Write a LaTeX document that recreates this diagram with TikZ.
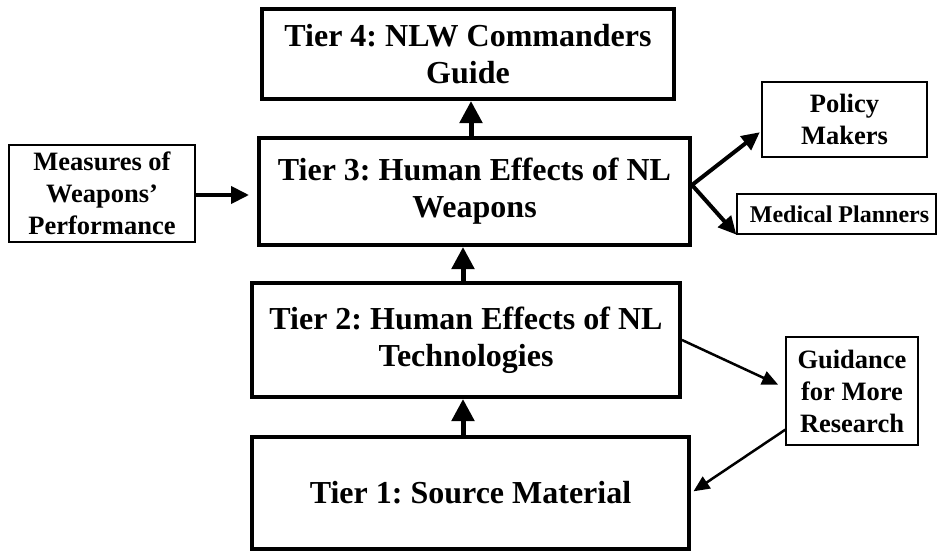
\documentclass[tikz,border=0pt]{standalone}
\usepackage{fontspec}
\setmainfont{Liberation Serif}
\usetikzlibrary{arrows.meta}
\frenchspacing

\tikzset{
  tierbox/.style={draw, line width=4pt, inner sep=0pt, align=center,
    font=\fontsize{32}{37}\selectfont\bfseries},
  smallbox/.style={draw, line width=1.3pt, inner sep=0pt, align=center,
    font=\fontsize{26.5}{32}\selectfont\bfseries},
  bigarrow/.style={line width=5pt, -{Triangle[length=22pt,width=22pt]}},
  midarrow/.style={line width=4pt, -{Triangle[length=18pt,width=17pt]}},
  thinarrow/.style={line width=2.5pt, -{Triangle[length=16pt,width=14pt]}}
}

\begin{document}
\begin{tikzpicture}[x=1pt, y=-1pt]
  \useasboundingbox (0,0) rectangle (938,552);

  % the four tiers
  \node[tierbox, minimum width=412pt, minimum height=90pt] (t4) at (468,54)
    {Tier 4: NLW Commanders\\Guide};
  \node[tierbox, minimum width=431pt, minimum height=107pt] (t3) at (474.5,191.5)
    {Tier 3: Human Effects of NL\\Weapons};
  \node[tierbox, minimum width=428pt, minimum height=114pt] (t2) at (466,340)
    {Tier 2: Human Effects of NL\\Technologies};
  \node[tierbox, minimum width=437pt, minimum height=112pt] (t1) at (470.5,493)
    {Tier 1: Source Material};

  % side boxes
  \node[smallbox, minimum width=186pt, minimum height=97pt] (meas) at (102,193.5)
    {Measures of\\Weapons'\\Performance};
  \node[smallbox, minimum width=165pt, minimum height=75pt] (pol) at (844.5,119.5)
    {Policy\\Makers};
  \node[smallbox, minimum width=199pt, minimum height=40pt,
        font=\fontsize{24}{28}\selectfont\bfseries] (med) at (836.5,214)
    {\hspace*{6pt}Medical Planners};
  \node[smallbox, minimum width=132pt, minimum height=108pt] (guid) at (852,391)
    {Guidance\\for More\\Research};

  % upward flow between tiers
  \draw[bigarrow] ([xshift=-7.5pt]t1.north) -- ([xshift=-7.5pt]t1.north |- t2.south);
  \draw[bigarrow] ([xshift=-3pt]t2.north) -- ([xshift=-3pt]t2.north |- t3.south);
  \draw[bigarrow] ([xshift=-3.5pt]t3.north) -- ([xshift=-3.5pt]t3.north |- t4.south);

  % inputs and outputs of tier 3
  \draw[midarrow, shorten >=8pt] ([yshift=-1.5pt]meas.east) -- ([yshift=-1.5pt]meas.east -| t3.west);
  \coordinate (t3out) at ([yshift=6.5pt]t3.east);
  \draw[midarrow, shorten >=2pt] (t3out) -- ([yshift=-11.5pt]pol.west);
  \draw[midarrow] (t3out) -- (med.south west);

  % research feedback loop
  \draw[thinarrow, shorten >=8pt] (t2.east) -- ([yshift=3pt]guid.west);
  \draw[thinarrow, shorten >=3pt] ([yshift=16pt]guid.south west) -- (t1.east);
\end{tikzpicture}
\end{document}
